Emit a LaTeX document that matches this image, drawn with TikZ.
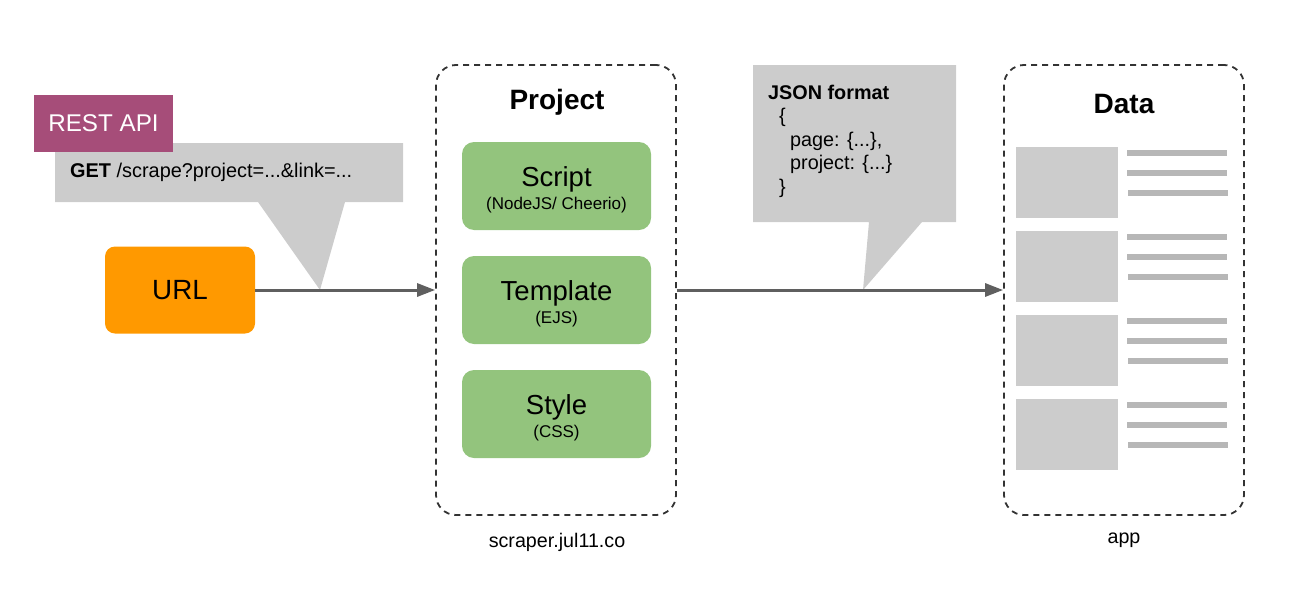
\documentclass[tikz,border=0pt]{standalone}
\usepackage{fontspec}
\setmainfont{Liberation Sans}
\usetikzlibrary{arrows.meta}
\definecolor{restc}{HTML}{A64D79}
\definecolor{urlc}{HTML}{FF9900}
\definecolor{greenc}{HTML}{93C47D}
\definecolor{grayc}{HTML}{CCCCCC}
\definecolor{linec}{HTML}{B7B7B7}
\definecolor{arrc}{HTML}{5F5F5F}
\definecolor{dashc}{HTML}{333333}
\tikzset{
  fs/.style={font=\fontsize{#1}{#1}\selectfont},
  fsb/.style={font=\fontsize{#1}{#1}\selectfont\bfseries},
  container/.style={draw=dashc, line width=1.8pt, dash pattern=on 6pt off 5pt, rounded corners=20pt, minimum width=240pt, minimum height=450pt, inner sep=0pt},
  greenbox/.style={fill=greenc, rounded corners=12pt, minimum width=189pt, minimum height=88pt, inner sep=0pt},
  conn/.style={draw=arrc, line width=3pt, -{Triangle[length=18pt,width=13pt]}},
  thumb/.style={fill=grayc},
  txtline/.style={draw=linec, line width=5.5pt},
}
\begin{document}
\begin{tikzpicture}[x=1pt,y=-1pt]
\useasboundingbox (0,0) rectangle (1308,605);
% callouts
\fill[grayc] (55,143) -- (403,143) -- (403,202) -- (345,202) -- (320,290) -- (258,202) -- (55,202) -- cycle;
\fill[grayc] (753,65) -- (956,65) -- (956,222) -- (922,222) -- (863,290) -- (869,222) -- (753,222) -- cycle;
% REST API
\node[fill=restc, minimum width=139pt, minimum height=57pt, inner sep=0pt, text=white, fs=24.2] (rest) at (103.5,123.5) {REST API};
\node[anchor=base west, fs=19.9, inner sep=0pt] (get) at (70,177) {\textbf{GET} /scrape?project=...\&link=...};
% URL
\node[fill=urlc, rounded corners=10pt, minimum width=150pt, minimum height=87pt, inner sep=0pt, fs=27.8] (url) at (180,290) {URL};
% Project container
\node[container] (project) at (556,290) {};
\node[fsb=28] (ptitle) at (557,102) {Project};
\node[greenbox] (script) at (556.5,186) {};
\node[fs=27.5, anchor=base] (scriptt) at (556.5,186) {Script};
\node[fs=17, anchor=base] (scripts) at (556.5,209) {(NodeJS/ Cheerio)};
\node[greenbox] (template) at (556.5,300) {};
\node[fs=27.5, anchor=base] (templatet) at (556.5,300) {Template};
\node[fs=17, anchor=base] (templates) at (556.5,323) {(EJS)};
\node[greenbox] (style) at (556.5,414) {};
\node[fs=27.5, anchor=base] (stylet) at (556.5,414) {Style};
\node[fs=17, anchor=base] (styles) at (556.5,437) {(CSS)};
\node[fs=19.7] (plabel) at (557,542) {scraper.jul11.co};
% JSON text
\node[anchor=base west, inner sep=0pt, fsb=19.8] (jt) at (768,99) {JSON format};
\node[anchor=base west, inner sep=0pt, fs=19.8] (j1) at (779,122) {\{};
\node[anchor=base west, inner sep=0pt, fs=19.8] (j2) at (790,146) {page: \{...\},};
\node[anchor=base west, inner sep=0pt, fs=19.8] (j3) at (790,169) {project: \{...\}};
\node[anchor=base west, inner sep=0pt, fs=19.8] (j4) at (779,193) {\}};
% Data container
\node[container] (data) at (1124,290) {};
\node[fsb=28] (dtitle) at (1124,104) {Data};
\foreach \i in {0,1,2,3}{
  \node[thumb, minimum width=102pt, minimum height=71pt, inner sep=0pt] (th\i) at (1067,182.5+84*\i) {};
  \draw[txtline] (1127,153+84*\i) -- (1227,153+84*\i);
  \draw[txtline] (1127,173+84*\i) -- (1227,173+84*\i);
  \draw[txtline] (1128,193+84*\i) -- (1228,193+84*\i);
}
\node[fs=19.7] (dlabel) at (1124,540) {app};
% connectors
\draw[conn] (url) -- (project);
\draw[conn] (project) -- (data);
\end{tikzpicture}
\end{document}
